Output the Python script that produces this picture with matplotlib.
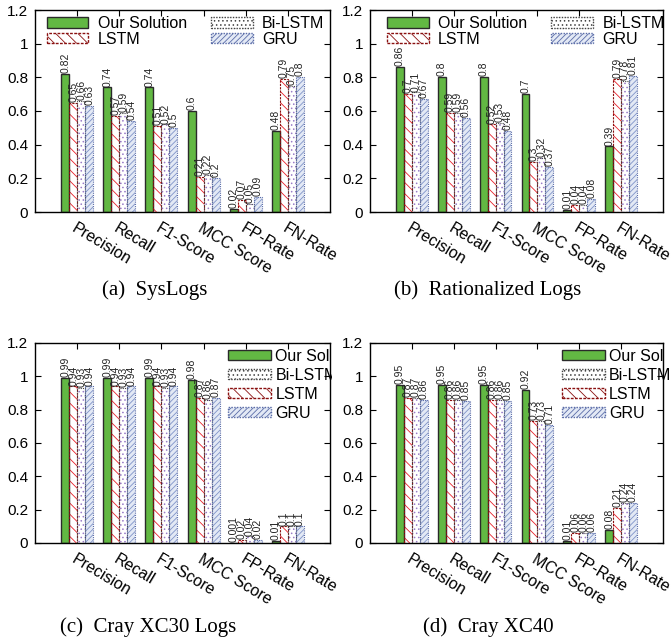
import numpy as np
import matplotlib.pyplot as plt
from matplotlib.patches import Patch
from matplotlib.transforms import Bbox, TransformedBbox

plt.rcParams["font.family"] = ["Liberation Sans", "DejaVu Sans"]
plt.rcParams["hatch.linewidth"] = 0.6

metricas = ["Precision", "Recall", "F1-Score", "MCC Score", "FP-Rate", "FN-Rate"]
modelos = ["Our Solution", "LSTM", "Bi-LSTM", "GRU"]

# (a) SysLogs
syslogs_ours = [0.82, 0.74, 0.74, 0.6, 0.02, 0.48]
syslogs_lstm = [0.65, 0.57, 0.51, 0.21, 0.07, 0.79]
syslogs_bilstm = [0.66, 0.59, 0.52, 0.22, 0.05, 0.75]
syslogs_gru = [0.63, 0.54, 0.5, 0.2, 0.09, 0.8]

# (b) Rationalized Logs
rat_ours = [0.86, 0.8, 0.8, 0.7, 0.01, 0.39]
rat_lstm = [0.7, 0.59, 0.52, 0.3, 0.04, 0.79]
rat_bilstm = [0.71, 0.59, 0.53, 0.32, 0.04, 0.78]
rat_gru = [0.67, 0.56, 0.48, 0.27, 0.08, 0.81]
# the printed label on the GRU/MCC bar reads 0.37
rat_gru_rotulos = ["0.67", "0.56", "0.48", "0.37", "0.08", "0.81"]

# (c) Cray XC30
xc30_ours = [0.99, 0.99, 0.99, 0.98, 0.001, 0.01]
xc30_lstm = [0.94, 0.94, 0.94, 0.87, 0.02, 0.1]
xc30_bilstm = [0.93, 0.93, 0.93, 0.86, 0.04, 0.1]
xc30_gru = [0.94, 0.94, 0.94, 0.87, 0.02, 0.1]

# (d) Cray XC40
xc40_ours = [0.95, 0.95, 0.95, 0.92, 0.01, 0.08]
xc40_lstm = [0.87, 0.86, 0.86, 0.73, 0.06, 0.21]
xc40_bilstm = [0.87, 0.86, 0.86, 0.73, 0.06, 0.24]
xc40_gru = [0.86, 0.85, 0.85, 0.71, 0.06, 0.24]

legenda_curta = ["Our Sol", "LSTM", "Bi-LSTM", "GRU"]

W, H = 672, 644
VERDE = "#62b843"
VERMELHO = "#e8202a"
ROXO = "#9a7cc8"
AZUL = "#7f93c8"
AZUL_FUNDO = "#e3e9f5"


def estilo(i):
    if i == 0:
        return dict(facecolor=VERDE, edgecolor="#2a2a2a", hatch=None)
    if i == 1:
        return dict(facecolor="white", edgecolor=VERMELHO, hatch="\\\\\\")
    if i == 2:
        return dict(facecolor="white", edgecolor=ROXO, hatch="....")
    return dict(facecolor=AZUL_FUNDO, edgecolor=AZUL, hatch="//////")


def contorno(i):
    if i == 0:
        return "#2a2a2a", "-"
    if i == 1:
        return "#8a1010", (0, (2, 1))
    if i == 2:
        return "#444444", (0, (1, 1))
    return "#5a6ca8", (0, (1, 1))


def eixo(px_esq, px_top, px_larg, px_alt):
    return fig.add_axes([px_esq / W, 1 - (px_top + px_alt) / H, px_larg / W, px_alt / H])


def grafico_barras(ax, series, rotulos):
    x = np.arange(1, len(metricas) + 1)
    larg = 0.19
    for i, valores in enumerate(series):
        pos = x + (i - 1.5) * larg
        st = estilo(i)
        ax.bar(pos, valores, larg, facecolor=st["facecolor"], edgecolor=st["edgecolor"],
               hatch=st["hatch"], linewidth=0, zorder=2)
        cor, ls = contorno(i)
        ax.bar(pos, valores, larg, fill=False, edgecolor=cor, linestyle=ls,
               linewidth=1.0 if i == 0 else 0.8, zorder=3)
        for p, v, r in zip(pos, valores, rotulos[i]):
            ax.text(p, v + 0.005, r, rotation=90, ha="center", va="bottom",
                    fontsize=7.5, color="#222222")

    ax.set_xlim(0, 7)
    ax.set_ylim(0, 1.2)
    ax.set_yticks(np.arange(0, 1.21, 0.2))
    ax.set_yticklabels(["0", "0.2", "0.4", "0.6", "0.8", "1", "1.2"], fontsize=11)
    ax.set_xticks(x)
    ax.set_xticklabels(metricas, fontsize=11.5, rotation=-31, ha="left", va="top",
                       rotation_mode="anchor")
    ax.tick_params(axis="both", direction="in", top=True, right=True, length=4, width=0.8)
    ax.tick_params(axis="x", pad=6)
    ax.tick_params(axis="y", pad=5)
    for s in ax.spines.values():
        s.set_linewidth(1.0)


def handles(ordem):
    hs = []
    for i in ordem:
        st = estilo(i)
        cor, ls = contorno(i)
        hs.append(Patch(facecolor=st["facecolor"], edgecolor=cor, hatch=st["hatch"],
                        linestyle=ls, linewidth=1.0))
    return hs


fig = plt.figure(figsize=(W / 100, H / 100), dpi=100)

paineis = [
    (35, 10, 295, 202, [syslogs_ours, syslogs_lstm, syslogs_bilstm, syslogs_gru], None),
    (370, 10, 293, 202, [rat_ours, rat_lstm, rat_bilstm, rat_gru], rat_gru_rotulos),
    (35, 343, 295, 200, [xc30_ours, xc30_lstm, xc30_bilstm, xc30_gru], None),
    (370, 343, 293, 200, [xc40_ours, xc40_lstm, xc40_bilstm, xc40_gru], None),
]

eixos = []
for k, (px, py, pw, ph, series, rot_gru) in enumerate(paineis):
    ax = eixo(px, py, pw, ph)
    rotulos = [[f"{v:g}" for v in s] for s in series]
    if rot_gru is not None:
        rotulos[3] = rot_gru
    grafico_barras(ax, series, rotulos)
    eixos.append(ax)

# legends on top panels: two columns
for ax, x0 in [(eixos[0], 0.04), (eixos[1], 0.058)]:
    hs = handles([0, 1, 2, 3])
    ax.legend(hs, modelos, loc="upper left", bbox_to_anchor=(x0, 0.97), ncol=2,
              frameon=False, fontsize=11.5, handlelength=2.6, handleheight=0.6,
              handletextpad=0.6, columnspacing=1.5, labelspacing=0.05,
              borderpad=0, borderaxespad=0)

# legends on bottom panels: one column, order Our Sol, Bi-LSTM, LSTM, GRU
for k, ax in enumerate([eixos[2], eixos[3]]):
    hs = handles([0, 2, 1, 3])
    leg = ax.legend(hs, [legenda_curta[0], legenda_curta[2], legenda_curta[1], legenda_curta[3]],
                    loc="upper left", bbox_to_anchor=(0.655, 0.97), frameon=False,
                    fontsize=11.5, handlelength=2.7, handleheight=0.6, handletextpad=0.25,
                    labelspacing=0.25, borderpad=0, borderaxespad=0)
    if k == 0:
        corte = TransformedBbox(Bbox([[0, 0], [332 / W, 1]]), fig.transFigure)
        for t in leg.get_texts():
            t.set_clip_box(corte)
            t.set_clip_on(True)

legendas = [
    (155, 290, "(a)  SysLogs"),
    (488, 290, "(b)  Rationalized Logs"),
    (148, 627, "(c)  Cray XC30 Logs"),
    (488, 627, "(d)  Cray XC40"),
]
for cx, cy, txt in legendas:
    fig.text(cx / W, 1 - cy / H, txt, ha="center", va="center", fontsize=15,
             family=["Liberation Serif", "DejaVu Serif"])

plt.savefig("out.png", dpi=100)
plt.close()
